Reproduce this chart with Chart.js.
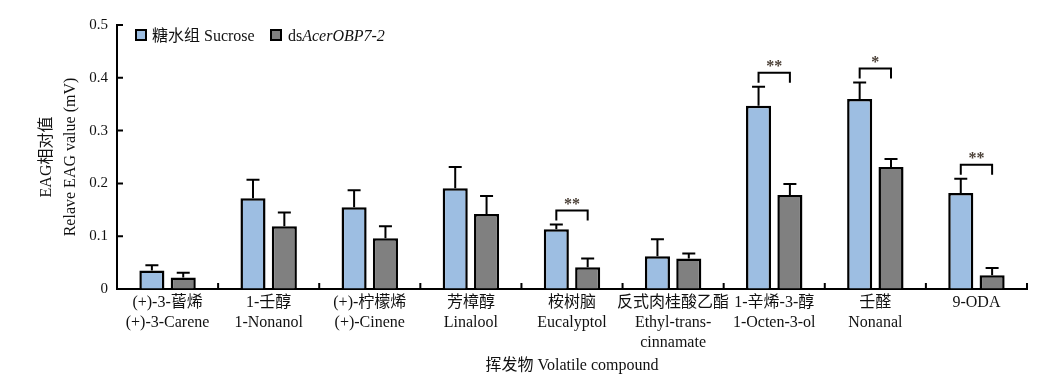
<!DOCTYPE html>
<html>
<head>
<meta charset="utf-8">
<script src="https://cdn.jsdelivr.net/npm/chart.js@4"></script>
<style>
	html, body { margin: 0; padding: 0; background: #fff; }
	#wrap { width: 1043px; height: 388px; }
</style>
</head>
<body>
<div id="wrap"><canvas id="eagChart" width="1043" height="388"></canvas></div>
<script>
// values (mV)
const categories = [
	['(+)-3-蒈烯', '(+)-3-Carene'],
	['1-壬醇', '1-Nonanol'],
	['(+)-柠檬烯', '(+)-Cinene'],
	['芳樟醇', 'Linalool'],
	['桉树脑', 'Eucalyptol'],
	['反式肉桂酸乙酯', 'Ethyl-trans-', 'cinnamate'],
	['1-辛烯-3-醇', '1-Octen-3-ol'],
	['壬醛', 'Nonanal'],
	['9-ODA'],
];
const sucrose = [0.035, 0.172, 0.155, 0.191, 0.113, 0.062, 0.347, 0.360, 0.182];
const sucroseErr = [0.010, 0.035, 0.032, 0.040, 0.009, 0.032, 0.036, 0.031, 0.027];
const dsOBP = [0.022, 0.119, 0.096, 0.142, 0.041, 0.058, 0.178, 0.231, 0.026];
const dsOBPErr = [0.009, 0.026, 0.023, 0.034, 0.017, 0.009, 0.021, 0.015, 0.014];
const significance = ['', '', '', '', '**', '', '**', '*', '**'];
const yTicks = [0, 0.1, 0.2, 0.3, 0.4, 0.5];

const serif = '"Liberation Serif", "Times New Roman", "Noto Sans CJK SC", serif';
const blue = '#9dbee2';
const grey = '#808080';

// error bars, significance brackets, inner ticks, legend and axis titles
const extras = {
	id: 'extras',
	afterDatasetsDraw (chart) {
		const ctx = chart.ctx;
		const y = chart.scales.y;
		const x = chart.scales.x;
		const area = chart.chartArea;
		const errs = [sucroseErr, dsOBPErr];
		const vals = [sucrose, dsOBP];
		ctx.save();
		ctx.strokeStyle = '#000';
		ctx.lineWidth = 2;
		[0, 1].forEach(d => {
			chart.getDatasetMeta(d).data.forEach((bar, i) => {
				const top = y.getPixelForValue(vals[d][i]);
				const cap = y.getPixelForValue(vals[d][i] + errs[d][i]);
				ctx.beginPath();
				ctx.moveTo(bar.x, top);
				ctx.lineTo(bar.x, cap);
				ctx.moveTo(bar.x - 6.5, cap);
				ctx.lineTo(bar.x + 6.5, cap);
				ctx.stroke();
			});
		});

		// brackets
		const m0 = chart.getDatasetMeta(0).data;
		const m1 = chart.getDatasetMeta(1).data;
		significance.forEach((s, i) => {
			if (!s) return;
			const cap = y.getPixelForValue(sucrose[i] + sucroseErr[i]);
			const bottom = cap - 4;
			const top = bottom - 10;
			ctx.beginPath();
			ctx.moveTo(m0[i].x, bottom);
			ctx.lineTo(m0[i].x, top);
			ctx.lineTo(m1[i].x, top);
			ctx.lineTo(m1[i].x, bottom);
			ctx.stroke();
			ctx.fillStyle = '#4a3f36';
			ctx.font = 'bold 16px ' + serif;
			ctx.textAlign = 'center';
			ctx.textBaseline = 'middle';
			ctx.fillText(s, (m0[i].x + m1[i].x) / 2, top - 6);
		});

		// inner ticks
		ctx.beginPath();
		yTicks.forEach(v => {
			const py = y.getPixelForValue(v);
			ctx.moveTo(area.left, py);
			ctx.lineTo(area.left + 6, py);
		});
		for (let i = 1; i <= categories.length; i++) {
			const px = i < categories.length
				? (x.getPixelForTick(i - 1) + x.getPixelForTick(i)) / 2
				: area.right;
			ctx.moveTo(px, area.bottom);
			ctx.lineTo(px, area.bottom - 6);
		}
		ctx.stroke();

		// legend
		ctx.lineWidth = 2;
		ctx.fillStyle = blue;
		ctx.fillRect(136, 30, 10, 10);
		ctx.strokeRect(136, 30, 10, 10);
		ctx.fillStyle = grey;
		ctx.fillRect(271, 30, 10, 10);
		ctx.strokeRect(271, 30, 10, 10);
		ctx.fillStyle = '#111';
		ctx.textAlign = 'left';
		ctx.textBaseline = 'alphabetic';
		ctx.font = '16px ' + serif;
		ctx.fillText('糖水组 Sucrose', 152, 41);
		ctx.fillText('ds', 288, 41);
		const dsW = ctx.measureText('ds').width;
		ctx.font = 'italic 16px ' + serif;
		ctx.fillText('AcerOBP7-2', 288 + dsW, 41);

		// axis titles
		ctx.font = '16px ' + serif;
		ctx.textAlign = 'center';
		ctx.textBaseline = 'middle';
		ctx.fillText('挥发物 Volatile compound', 572, 366);
		const midY = (area.top + area.bottom) / 2;
		ctx.translate(47, midY);
		ctx.rotate(-Math.PI / 2);
		ctx.fillText('EAG相对值', 0, 0);
		ctx.fillText('Relave EAG value (mV)', 0, 24);
		ctx.restore();
	},
};

new Chart(document.getElementById('eagChart').getContext('2d'), {
	type: 'bar',
	data: {
		labels: categories,
		datasets: [{
			label: '糖水组 Sucrose',
			data: sucrose,
			backgroundColor: blue,
			borderColor: '#000',
			borderWidth: 2.5,
			borderSkipped: 'bottom',
			categoryPercentage: 0.62,
			barPercentage: 0.8,
		}, {
			label: 'dsAcerOBP7-2',
			data: dsOBP,
			backgroundColor: grey,
			borderColor: '#000',
			borderWidth: 2.5,
			borderSkipped: 'bottom',
			categoryPercentage: 0.62,
			barPercentage: 0.8,
		}],
	},
	options: {
		responsive: false,
		animation: false,
		layout: { padding: { top: 25, right: 16, bottom: 0, left: 0 } },
		plugins: {
			legend: { display: false },
			tooltip: { enabled: false },
		},
		scales: {
			x: {
				grid: { drawOnChartArea: false, drawTicks: false },
				border: { display: true, color: '#000', width: 2 },
				ticks: {
					color: '#111',
					font: { family: serif, size: 16, lineHeight: 1.25 },
					padding: 4,
					maxRotation: 0,
					autoSkip: false,
				},
				afterFit (scale) { scale.height = 99; },
			},
			y: {
				min: 0,
				max: 0.5,
				grid: { drawOnChartArea: false, drawTicks: false },
				border: { display: true, color: '#000', width: 2 },
				ticks: {
					stepSize: 0.1,
					color: '#111',
					padding: 9,
					font: { family: serif, size: 15 },
					callback: v => (v === 0 ? '0' : v.toFixed(1)),
				},
				afterFit (scale) { scale.width = 117; },
			},
		},
	},
	plugins: [extras],
});
</script>
</body>
</html>
